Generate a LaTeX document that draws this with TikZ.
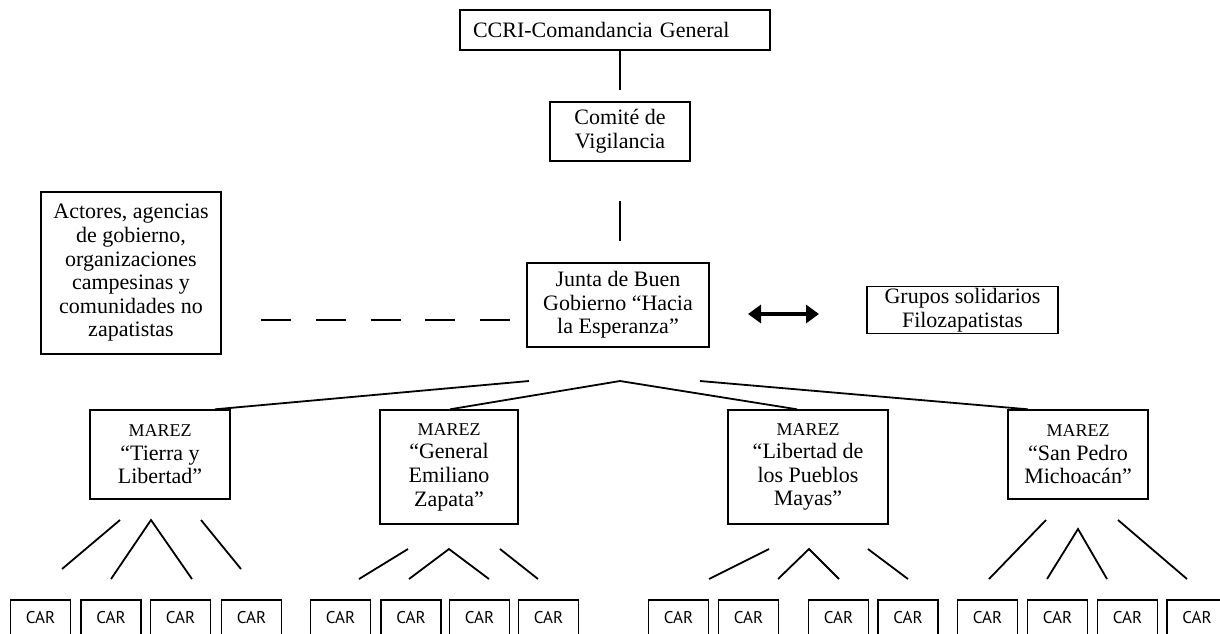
\documentclass[tikz,border=0pt]{standalone}
\usepackage{fontspec}
\setmainfont{Liberation Serif}
\newfontfamily\carfont{PT Sans}
\usetikzlibrary{arrows.meta}
\begin{document}
\begin{tikzpicture}[x=1pt,y=-1pt,
  box/.style={draw, line width=1.4pt, inner sep=0pt, align=center,
    font=\fontsize{22}{23.6}\selectfont},
  marez/.style={box, minimum width=140pt},
  car/.style={draw, line width=1.3pt, inner sep=0pt, minimum width=60pt,
    minimum height=35pt, font=\carfont\fontsize{17}{17}\selectfont},
  link/.style={line width=1.8pt}]
\useasboundingbox (0,0) rectangle (1220,633);
\clip (0,0) rectangle (1220,633);

% top nodes
\node[box, text width=284pt, align=left, inner xsep=13pt, minimum height=40pt] (ccri) at (615,30) {CCRI-Comandancia General};
\node[box, minimum width=140pt, minimum height=59pt] (cv) at (620,131.5) {Comité de\\Vigilancia};
\node[box, minimum width=180pt, minimum height=162pt] (act) at (131,273) {Actores, agencias\\de gobierno,\\organizaciones\\campesinas y\\comunidades no\\zapatistas};
\node[box, minimum width=182pt, minimum height=84pt] (jbg) at (618,305) {Junta de Buen\\Gobierno “Hacia\\la Esperanza”};
\node[box, minimum width=191pt, minimum height=47pt] (grp) at (962.5,310) {Grupos solidarios\\Filozapatistas};

% MAREZ
\node[marez, minimum height=89pt] (m1) at (160,454.5) {{\fontsize{18}{23.6}\selectfont MAREZ}\\“Tierra y\\Libertad”};
\node[marez, minimum width=138pt, minimum height=114pt] (m2) at (449,467) {{\fontsize{18}{23.6}\selectfont MAREZ}\\“General\\Emiliano\\Zapata”};
\node[marez, minimum width=160pt, minimum height=114pt] (m3) at (808,467) {{\fontsize{18}{23.6}\selectfont MAREZ}\\“Libertad de\\los Pueblos\\Mayas”};
\node[marez, minimum height=89pt] (m4) at (1078,454.5) {{\fontsize{18}{23.6}\selectfont MAREZ}\\“San Pedro\\Michoacán”};

% CAR boxes
\foreach \n/\x in {a1/40.5,a2/111,a3/180.5,a4/251.5,
                   b1/340.5,b2/411,b3/479.5,b4/548.5,
                   c1/678.5,c2/748.5,c3/838.5,c4/908,
                   d1/987.5,d2/1057.5,d3/1127.5,d4/1197}
  \node[car] (car\n) at (\x,617.5) {CAR};

% vertical connectors
\coordinate (c1a) at (620,50);
\coordinate (c1b) at (620,90);
\draw[link] (c1a) -- (c1b);
\coordinate (c2a) at (620,201);
\coordinate (c2b) at (620,241);
\draw[link] (c2a) -- (c2b);

% dashed connector
\coordinate (da) at (261,320);
\coordinate (db) at (510,320);
\draw[line width=2.8pt, dash pattern=on 30pt off 24.75pt] (da) -- (db);

% double arrow
\coordinate (aa) at (748,314);
\coordinate (ab) at (819,314);
\draw[line width=3.2pt, {Triangle[width=18pt,length=13pt]}-{Triangle[width=18pt,length=13pt]}] (aa) -- (ab);

% Junta to MAREZ
\coordinate (j1) at (529,381);
\coordinate (j2) at (620,381);
\coordinate (j4) at (700,381);
\draw[link] (j1) -- ([xshift=55pt]m1.north);
\draw[link] ([xshift=1pt]m2.north) -- (j2) -- ([xshift=-11pt]m3.north);
\draw[link] (j4) -- ([xshift=-50pt]m4.north);

% MAREZ to CAR (free segments)
\draw[link] (120,520) -- (62,569);
\draw[link] (111,579) -- (151,520) -- (192,579);
\draw[link] (201,520) -- (241,569);

\draw[link] (408,549) -- (359,579);
\draw[link] (409,579) -- (449,549) -- (489,579);
\draw[link] (500,549) -- (538,579);

\draw[link] (769,549) -- (709,579);
\draw[link] (778,579) -- (809,549) -- (839,579);
\draw[link] (868,549) -- (908,579);

\draw[link] (1046,520) -- (989,579);
\draw[link] (1047,579) -- (1078,529) -- (1107,579);
\draw[link] (1118,520) -- (1187,579);
\end{tikzpicture}
\end{document}
